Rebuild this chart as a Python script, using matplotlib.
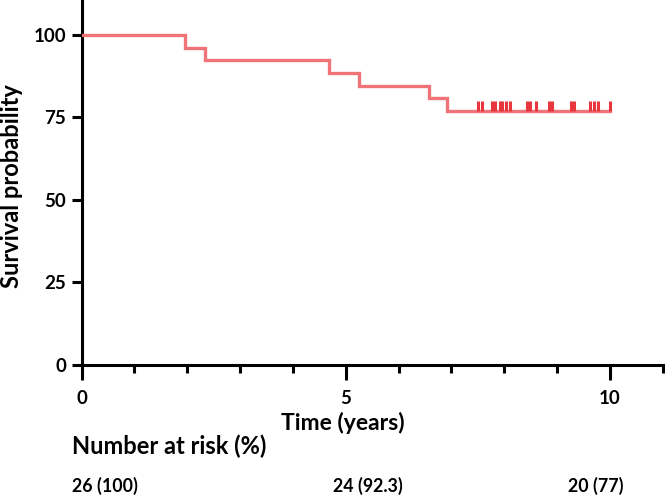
import numpy as np
import matplotlib.pyplot as plt
from matplotlib.ticker import MultipleLocator

plt.rcParams['font.family'] = ['Lato', 'DejaVu Sans']
plt.rcParams['font.weight'] = 'bold'

# Kaplan-Meier steps (time in years, survival %)
event_times = [0, 1.96, 2.34, 4.68, 5.25, 6.58, 6.92, 10.0]
survival = [100, 96.2, 92.3, 88.5, 84.6, 80.8, 76.9, 76.9]

# censored observations
censor_times = [7.51, 7.58, 7.77, 7.83, 7.91, 7.96, 8.04, 8.11, 8.43, 8.49,
                8.60, 8.84, 8.90, 9.26, 9.32, 9.62, 9.70, 9.78, 10.0]

risk_labels = ['26 (100)', '24 (92.3)', '20 (77)']

fig = plt.figure(figsize=(6.65, 4.95), dpi=100)
ax = fig.add_axes([81.5/665, 130/495, 583.5/665, 365/495])

ax.step(event_times, survival, where='post', color='#F07378', lw=2.4,
        solid_joinstyle='miter', zorder=3)
ax.vlines(censor_times, survival[-1], survival[-1] + 3.2, color='#E8363F',
          lw=2.2, zorder=4)

ax.set_xlim(0, 11.04)
ax.set_ylim(0, 110.6)
ax.set_yticks([0, 25, 50, 75, 100])
ax.set_xticks([0, 5, 10])
ax.xaxis.set_minor_locator(MultipleLocator(1))

for s in ['top', 'right']:
    ax.spines[s].set_visible(False)
for s in ['left', 'bottom']:
    ax.spines[s].set_linewidth(2.2)

ax.tick_params(axis='y', length=7, width=2.2, labelsize=13.5, pad=4)
ax.tick_params(axis='x', which='major', length=11, width=2.2, labelsize=13.5, pad=7)
ax.tick_params(axis='x', which='minor', length=6, width=2.2)
for lab in ax.get_xticklabels() + ax.get_yticklabels():
    lab.set_fontweight('bold')

ax.set_ylabel('Survival probability', fontsize=17, fontweight='bold')
ax.yaxis.set_label_coords(-0.101, 0.49)
ax.set_xlabel('Time (years)', fontsize=16.5, fontweight='bold')
ax.xaxis.set_label_coords(0.448, -0.128)

fig.text(72/665, 1 - 446/495, 'Number at risk (%)', fontsize=17,
         fontweight='bold', va='center', ha='left')
risk_x = [72, 333, 568]
for x, lab in zip(risk_x, risk_labels):
    fig.text(x/665, 1 - 486/495, lab, fontsize=12.8, fontweight='bold',
             va='center', ha='left')

fig.savefig('out.png', dpi=100)
